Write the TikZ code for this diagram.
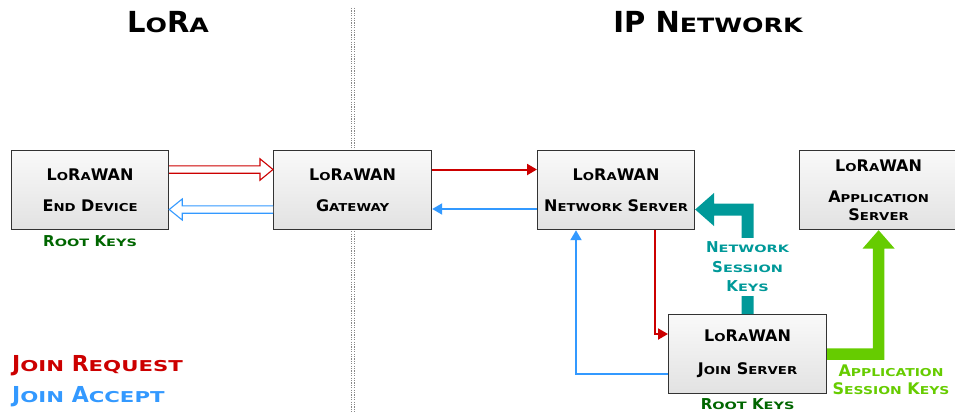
\documentclass[tikz,border=0pt]{standalone}
\usepackage{fontspec}
\usepackage{graphicx}
\setmainfont{DejaVu Sans}
\usetikzlibrary{calc,arrows.meta}

\definecolor{boxline}{HTML}{333333}
\definecolor{boxtop}{HTML}{F9F9F9}
\definecolor{boxbot}{HTML}{E2E2E2}
\definecolor{reqred}{HTML}{CC0000}
\definecolor{accblue}{HTML}{3399FF}
\definecolor{nskteal}{HTML}{009999}
\definecolor{askgreen}{HTML}{66CC00}
\definecolor{rootgreen}{HTML}{006600}
\definecolor{divgray}{HTML}{888888}

% faux small capitals: the lower-case part is set as capitals at a
% reduced size (\lcratio) and widened horizontally (\lcstretch)
\newcommand\lcratio{0.68}
\newcommand\lcstretch{1.22}
\makeatletter
\newcommand\lc[1]{\scalebox{\lcstretch}[1]{\fontsize{\strip@pt\dimexpr\lcratio\dimexpr\f@size pt\relax\relax}{\f@baselineskip}\selectfont #1}}
\makeatother

\begin{document}
\begin{tikzpicture}[x=1pt,y=-1pt,
  box/.style={draw=boxline, line width=1.2pt, top color=boxtop, bottom color=boxbot,
    minimum height=79pt, inner sep=0pt, anchor=north west, align=center,
    font=\bfseries\fontsize{16}{31}\selectfont},
  title/.style={font=\bfseries\fontsize{29}{34}\selectfont\def\lcstretch{1.28}},
  rootkeys/.style={text=rootgreen, font=\bfseries\fontsize{15}{18}\selectfont\def\lcstretch{1.42}},
  legend/.style={anchor=west, inner sep=0pt, font=\bfseries\fontsize{22}{24}\selectfont\def\lcstretch{1.42}},
  reqline/.style={draw=reqred, line width=2pt, -{Triangle[length=10pt,width=11pt]}},
  accline/.style={draw=accblue, line width=2pt, -{Triangle[length=10pt,width=11pt]}},
  hollow/.style={draw=#1, line width=1.1pt, fill=white, line join=miter},
  divider/.style={draw=divgray, line width=0.9pt, dash pattern=on 1.2pt off 1.2pt}
]
\useasboundingbox (0,0) rectangle (955,412);

% network / radio divider
\draw[divider] (351.5,8) -- (351.5,412);
\draw[divider] (354.5,8) -- (354.5,412);

% headings
\node[title] (hlora) at (168,22) {L\lc{O}R\lc{A}};
\node[title] (hip) at (708,22) {IP N\lc{ETWORK}};

% boxes
\node[box, minimum width=157pt] (ed) at (11,150) {L\lc{O}R\lc{A}WAN\\E\lc{ND} D\lc{EVICE}};
\node[box, minimum width=158pt] (gw) at (273,150) {L\lc{O}R\lc{A}WAN\\G\lc{ATEWAY}};
\node[box, minimum width=157pt] (ns) at (537,150) {L\lc{O}R\lc{A}WAN\\N\lc{ETWORK} S\lc{ERVER}};
\node[box, minimum width=158pt, font=\bfseries\fontsize{16}{18}\selectfont] (as) at (799,150)
  {L\lc{O}R\lc{A}WAN\\[13pt]A\lc{PPLICATION}\\S\lc{ERVER}};
\node[box, minimum width=158pt, font=\bfseries\fontsize{16}{33}\selectfont] (js) at (668,314)
  {L\lc{O}R\lc{A}WAN\\J\lc{OIN} S\lc{ERVER}};

% radio link: hollow arrows
\coordinate (r1) at ($(ed.north east)+(0,19.5)$);
\coordinate (r2) at ($(gw.north west)+(0,19.5)$);
\draw[hollow=reqred] ($(r1)+(0,-3.7)$) -- ($(r2)+(-13,-3.7)$) -- ($(r2)+(-13,-10.7)$)
  -- (r2) -- ($(r2)+(-13,10.7)$) -- ($(r2)+(-13,3.7)$) -- ($(r1)+(0,3.7)$);
\coordinate (b1) at ($(gw.north west)+(0,59.5)$);
\coordinate (b2) at ($(ed.north east)+(0,59.5)$);
\draw[hollow=accblue] ($(b1)+(0,-3.7)$) -- ($(b2)+(13,-3.7)$) -- ($(b2)+(13,-10.5)$)
  -- (b2) -- ($(b2)+(13,10.5)$) -- ($(b2)+(13,3.7)$) -- ($(b1)+(0,3.7)$);

% IP links
\draw[reqline] ($(gw.north east)+(0,19.5)$) -- ($(ns.north west)+(0,19.5)$);
\draw[accline] ($(ns.north west)+(0,59)$) -- ($(gw.north east)+(0,59)$);
\draw[reqline] ($(ns.south west)+(118,0)$) |- ($(js.north west)+(0,20)$);
\draw[accline] ($(js.north west)+(0,60)$) -| ($(ns.south west)+(39,0)$);

% network session keys: thick bent arrow into the network server
\fill[nskteal] let \p1=(js.north), \p2=($(ns.north east)+(0,59.5)$) in
  (\x1-6pt,\y1) -- (\x1-6pt,\y2-6pt) -- (\x2+19pt,\y2-6pt) -- (\x2+19pt,\y2-16.7pt)
  -- (\p2) -- (\x2+19pt,\y2+16.7pt) -- (\x2+19pt,\y2+6pt) -- (\x1+6pt,\y2+6pt)
  -- (\x1+6pt,\y1) -- cycle;
\node[fill=white, inner xsep=2pt, inner ysep=4pt, align=center, text=nskteal,
  font=\bfseries\fontsize{15}{19.5}\selectfont\def\lcstretch{1.42}] (nsk) at ($(js.north)+(0,-47)$)
  {N\lc{ETWORK}\\S\lc{ESSION}\\K\lc{EYS}};

% application session keys: thick bent arrow into the application server
\fill[askgreen] let \p1=(js.east), \p2=(as.south) in
  (\x1,\y1+5.8pt) -- (\x2-5.8pt,\y1+5.8pt) -- (\x2-5.8pt,\y2-18.3pt) -- (\x2-16pt,\y2-18.3pt)
  -- (\p2) -- (\x2+16pt,\y2-18.3pt) -- (\x2+5.8pt,\y2-18.3pt) -- (\x2+5.8pt,\y1-5.8pt)
  -- (\x1,\y1-5.8pt) -- cycle;
\node[align=center, text=askgreen, inner sep=0pt,
  font=\bfseries\fontsize{16}{18}\selectfont\def\lcstretch{1.28}] (ask) at (891,380)
  {A\lc{PPLICATION}\\S\lc{ESSION} K\lc{EYS}};

% root keys
\node[rootkeys] (rk1) at ($(ed.south)+(0,11)$) {R\lc{OOT} K\lc{EYS}};
\node[rootkeys] (rk2) at ($(js.south)+(0,10)$) {R\lc{OOT} K\lc{EYS}};

% legend
\node[legend, text=reqred] (lgreq) at (12,366) {J\lc{OIN} R\lc{EQUEST}};
\node[legend, text=accblue] (lgacc) at (12,397) {J\lc{OIN} A\lc{CCEPT}};
\end{tikzpicture}
\end{document}
